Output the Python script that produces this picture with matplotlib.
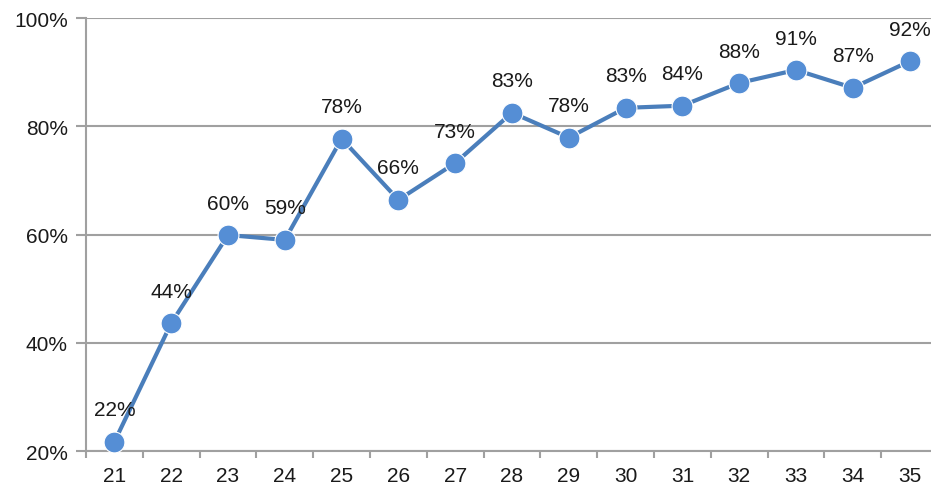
import matplotlib
matplotlib.use("Agg")
import matplotlib.pyplot as plt
from matplotlib.ticker import FuncFormatter

categories = ["21", "22", "23", "24", "25", "26", "27", "28", "29", "30", "31", "32", "33", "34", "35"]
values = [21.7, 43.6, 59.9, 59.0, 77.7, 66.4, 73.2, 82.5, 77.9, 83.4, 83.8, 88.0, 90.4, 87.1, 92.0]
labels = ["22%", "44%", "60%", "59%", "78%", "66%", "73%", "83%", "78%", "83%", "84%", "88%", "91%", "87%", "92%"]
yticks = [20, 40, 60, 80, 100]

plt.rcParams['font.family'] = ['Liberation Sans', 'DejaVu Sans']

W, H = 931, 489
fig = plt.figure(figsize=(W / 100, H / 100), dpi=100)
left, right, top, bottom = 86, 938, 19, 452
ax = fig.add_axes([left / W, 1 - bottom / H, (right - left) / W, (bottom - top) / H])

x = list(range(len(categories)))
ax.plot(x, values, color="#4A7EBB", lw=3, marker="o", markersize=15,
        markerfacecolor="#558ED5", markeredgecolor="white", markeredgewidth=0.8,
        solid_capstyle="round", zorder=3, clip_on=False)

for xi, v, lab in zip(x, values, labels):
    ax.annotate(lab, (xi, v), xytext=(0, 23), textcoords="offset points",
                ha="center", va="center", fontsize=15, color="#1a1a1a")

ax.set_xlim(-0.5, len(categories) - 0.5)
ax.set_ylim(20, 100)
ax.set_yticks(yticks)
ax.yaxis.set_major_formatter(FuncFormatter(lambda v, p: f"{int(v)}%"))
ax.set_xticks(x)
ax.set_xticklabels(categories)
ax.set_xticks([i - 0.5 for i in range(len(categories) + 1)], minor=True)
ax.tick_params(axis="x", which="major", length=0, pad=11, labelsize=15, labelcolor="#1a1a1a")
ax.tick_params(axis="x", which="minor", length=5, width=1.5, color="#A0A0A0")
ax.tick_params(axis="y", length=7, width=1.5, color="#A0A0A0", pad=6, labelsize=15, labelcolor="#1a1a1a")

ax.grid(axis="y", color="#A0A0A0", lw=1.5)
ax.set_axisbelow(True)
for s in ["top", "right"]:
    ax.spines[s].set_visible(False)
for s in ["left", "bottom"]:
    ax.spines[s].set_color("#A0A0A0")
    ax.spines[s].set_linewidth(1.5)

fig.savefig("out.png", dpi=100)
